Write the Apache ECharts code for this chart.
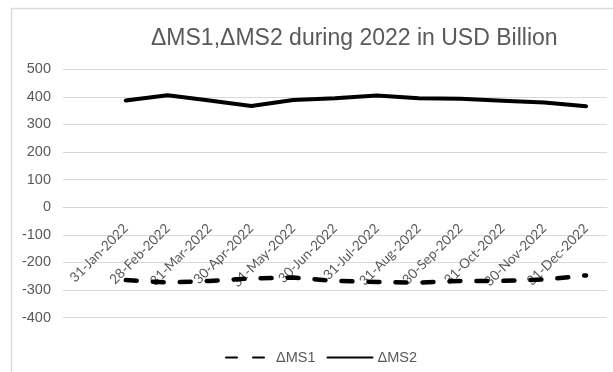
<!DOCTYPE html>
<html>
<head>
<meta charset="utf-8">
<style>
  html, body { margin: 0; padding: 0; background: #ffffff; }
  #chart { width: 613px; height: 372px; }
</style>
<script src="https://cdn.jsdelivr.net/npm/echarts@6/dist/echarts.min.js"></script>
</head>
<body>
<div id="chart"></div>
<script>
// Month-end dates; the leading blank slot keeps the first column empty
const categories = ['', '31-Jan-2022', '28-Feb-2022', '31-Mar-2022', '30-Apr-2022', '31-May-2022',
  '30-Jun-2022', '31-Jul-2022', '31-Aug-2022', '30-Sep-2022', '31-Oct-2022', '30-Nov-2022', '31-Dec-2022'];

// Changes in money supply, USD billion
const deltaMS1 = [null, -264, -273, -267, -258, -255, -267, -271, -273, -267, -267, -262, -247];
const deltaMS2 = [null, 387, 406, 387, 367, 389, 395, 405, 395, 393, 386, 380, 366];

const seriesNames = ['\u0394MS1', '\u0394MS2'];
const titleText = '\u0394MS1,\u0394MS2 during 2022 in USD Billion';

const yMin = -400, yMax = 500, yStep = 100;

const textGrey = '#595959';
const gridGrey = '#d9d9d9';

// plot box
const gridTop = 69.3, gridBottom = 54.4;
const plotHeight = 372 - gridTop - gridBottom;
// the date axis sits on the zero line, measured up from the plot's bottom edge
const zeroLift = plotHeight * (0 - yMin) / (yMax - yMin);

const chart = echarts.init(document.getElementById('chart'), null, { renderer: 'canvas' });

chart.setOption({
  animation: false,
  backgroundColor: '#ffffff',
  graphic: [{
    type: 'rect',
    left: 9, top: 6,
    shape: { width: 700, height: 500 },
    style: { fill: 'none', stroke: gridGrey, lineWidth: 1.5 },
    silent: true,
    z: -1
  }],
  title: {
    text: titleText,
    left: 146,
    top: 22,
    textStyle: { fontFamily: 'Arial, "Liberation Sans", sans-serif', fontSize: 23, fontWeight: 'normal', color: textGrey }
  },
  legend: {
    data: seriesNames,
    left: 220,
    top: 345,
    itemWidth: 45,
    itemHeight: 14,
    itemGap: 11,
    itemStyle: { opacity: 0 },
    textStyle: { fontFamily: 'Arial, "Liberation Sans", sans-serif', fontSize: 14.5, color: textGrey }
  },
  grid: { left: 63, right: 6, top: gridTop, bottom: gridBottom, containLabel: false, outerBoundsMode: 'none' },
  xAxis: {
    type: 'category',
    data: categories,
    boundaryGap: true,
    position: 'bottom',
    offset: -zeroLift,
    axisLine: { show: true, onZero: false, lineStyle: { color: gridGrey, width: 1 } },
    axisTick: { show: false },
    axisLabel: {
      interval: 0,
      rotate: 45,
      margin: 19,
      fontFamily: 'Lato, sans-serif',
      fontSize: 13.5,
      color: textGrey
    },
    splitLine: { show: false }
  },
  yAxis: {
    type: 'value',
    min: yMin,
    max: yMax,
    interval: yStep,
    axisLine: { show: false },
    axisTick: { show: false },
    axisLabel: { margin: 12, fontFamily: 'Arial, "Liberation Sans", sans-serif', fontSize: 14.5, color: textGrey },
    splitLine: { lineStyle: { color: gridGrey, width: 1 } }
  },
  series: [
    {
      name: seriesNames[0],
      type: 'line',
      data: deltaMS1,
      symbol: 'none',
      connectNulls: false,
      lineStyle: { color: '#000000', width: 4.5, type: [11, 16], cap: 'round', join: 'round' },
      itemStyle: { color: '#000000' }
    },
    {
      name: seriesNames[1],
      type: 'line',
      data: deltaMS2,
      symbol: 'none',
      lineStyle: { color: '#000000', width: 4, type: 'solid', cap: 'round', join: 'round' },
      itemStyle: { color: '#000000' }
    }
  ]
});
</script>
</body>
</html>
